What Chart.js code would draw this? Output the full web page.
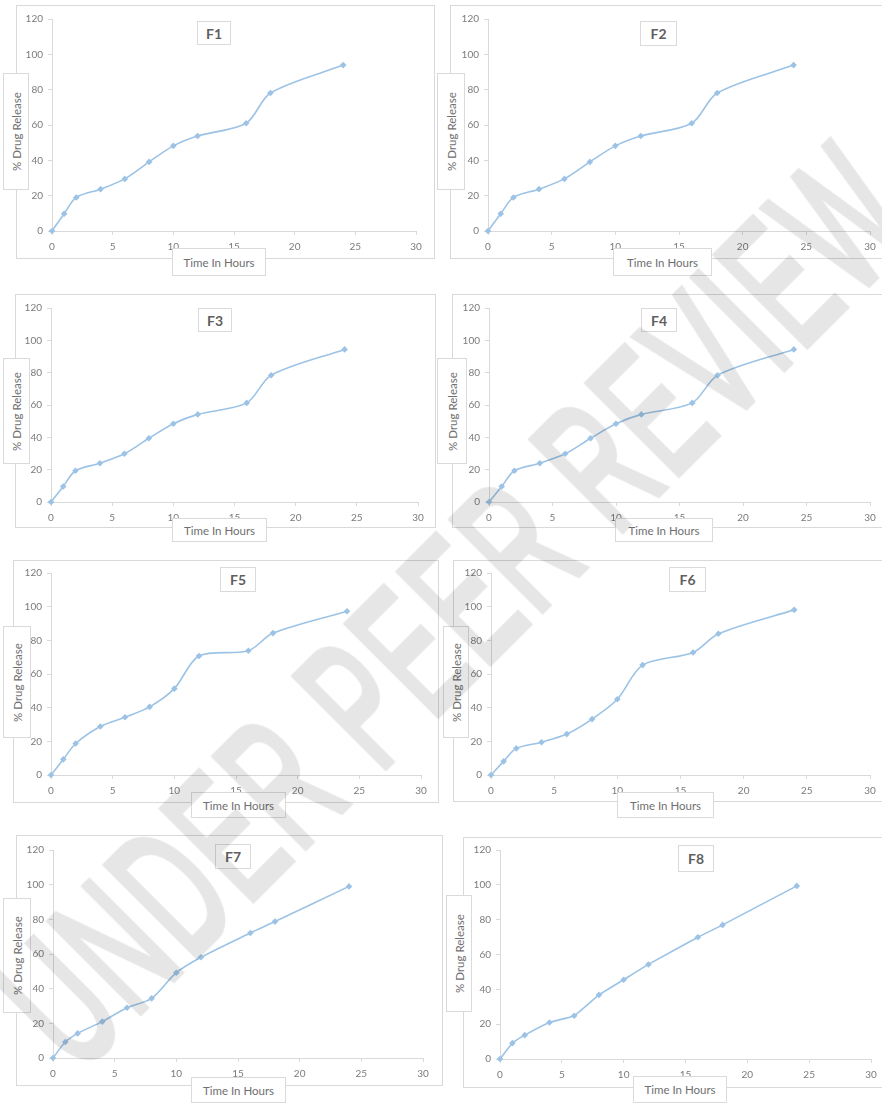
<!DOCTYPE html>
<html>
<head>
<meta charset="utf-8">
<title>% Drug Release vs Time — F1 to F8</title>
<script src="https://cdn.jsdelivr.net/npm/chart.js@4.4.1/dist/chart.umd.min.js"></script>
<style>
  html, body { margin: 0; padding: 0; background: #fff; }
  #page {
    position: relative; width: 882px; height: 1104px; overflow: hidden;
    background: #fff; font-family: Lato, "Open Sans", "Liberation Sans", sans-serif;
  }
  .frame { position: absolute; box-sizing: border-box; border: 1px solid #d9d9d9; }
  .plot { position: absolute; display: block; }
  .tag {
    position: absolute; box-sizing: border-box; border: 1px solid #dadada; background: #fff;
    display: flex; align-items: center; justify-content: center;
    color: #6f6f6f; font-size: 11.5px; white-space: nowrap;
  }
  .tag.title { font-weight: bold; font-size: 14px; color: #5f5f5f; }
  .tag.ytitle span { display: block; transform: rotate(-90deg); }
  #watermark {
    position: absolute; left: 456px; top: 606px;
    transform: translate(-50%, -50%) rotate(-45deg) scaleX(0.56);
    font-family: "Liberation Sans", Arial, sans-serif; font-weight: normal; font-size: 186px;
    letter-spacing: 8px;
    line-height: 1; white-space: nowrap; color: #e6e6e6;
    -webkit-text-stroke: 7px #e6e6e6;
    mix-blend-mode: multiply; pointer-events: none;
  }
</style>
</head>
<body>
<div id="page"></div>
<script>
// ---- data -------------------------------------------------------------
const hours = [0, 1, 2, 4, 6, 8, 10, 12, 16, 18, 24];
const formulations = ['F1', 'F2', 'F3', 'F4', 'F5', 'F6', 'F7', 'F8'];

const releaseF1 = [0, 9.8, 19.0, 23.7, 29.5, 39.1, 48.2, 53.8, 61.0, 78.1, 93.9];
const releaseF2 = [0, 9.8, 19.0, 23.7, 29.5, 39.1, 48.2, 53.8, 61.0, 78.1, 93.9];
const releaseF3 = [0, 9.6, 19.3, 24.0, 29.8, 39.4, 48.4, 54.2, 61.3, 78.4, 94.4];
const releaseF4 = [0, 9.6, 19.3, 24.0, 29.8, 39.4, 48.4, 54.2, 61.3, 78.4, 94.4];
const releaseF5 = [0, 9.3, 18.7, 28.8, 34.3, 40.5, 51.3, 70.7, 73.8, 84.3, 97.3];
const releaseF6 = [0, 8.1, 15.8, 19.5, 24.3, 33.2, 45.0, 65.3, 72.8, 83.9, 98.1];
const releaseF7 = [0, 9.2, 14.2, 21.0, 29.0, 34.4, 49.2, 58.1, 72.1, 78.7, 99.0];
const releaseF8 = [0, 9.1, 13.7, 21.0, 24.8, 36.8, 45.5, 54.3, 69.9, 77.0, 99.4];

const timeTicks = [0, 5, 10, 15, 20, 25, 30];
const releaseTicks = [0, 20, 40, 60, 80, 100, 120];

const xAxisTitle = 'Time In Hours';
const yAxisTitle = '% Drug Release';
const watermarkText = 'UNDER PEER REVIEW';

const releaseSeries = [releaseF1, releaseF2, releaseF3, releaseF4,
                       releaseF5, releaseF6, releaseF7, releaseF8];

// ---- layout (page pixels) ---------------------------------------------
// frame: [left, top, right, bottom]; plot: [x at first tick, y at last tick, x at last tick, y at first tick]
const panels = [
  { frame: [16, 5, 435, 259],    plot: [52, 18, 416, 231],    title: [197, 21, 231, 45],   yTitle: [3, 73, 29, 190],     xTitle: [172, 248, 266, 276] },
  { frame: [450, 5, 900, 259],   plot: [488, 18, 870, 231],   title: [640, 21, 677, 46],   yTitle: [437, 73, 465, 190],  xTitle: [613, 248, 712, 276] },
  { frame: [15, 294, 436, 528],  plot: [51, 307, 418, 502],   title: [198, 308, 232, 332], yTitle: [3, 358, 30, 464],    xTitle: [172, 518, 267, 542] },
  { frame: [452, 294, 900, 528], plot: [489, 307, 870, 502],  title: [641, 308, 677, 332], yTitle: [437, 358, 467, 464], xTitle: [615, 518, 713, 542] },
  { frame: [13, 560, 439, 803],  plot: [51, 572, 421, 775],   title: [220, 567, 256, 592], yTitle: [3, 626, 31, 738],    xTitle: [191, 792, 286, 818] },
  { frame: [453, 560, 900, 802], plot: [491, 572, 870, 775],  title: [669, 567, 706, 592], yTitle: [443, 626, 469, 738], xTitle: [617, 792, 714, 818] },
  { frame: [16, 835, 443, 1086], plot: [53, 849, 423, 1058],  title: [215, 844, 251, 869], yTitle: [3, 898, 31, 1013],   xTitle: [191, 1077, 286, 1103] },
  { frame: [463, 837, 900, 1088], plot: [500, 849, 871, 1059], title: [678, 845, 714, 872], yTitle: [446, 895, 472, 1012], xTitle: [633, 1076, 727, 1103] }
];

const AXIS_W = 46, AXIS_H = 26, PAD_T = 10, PAD_R = 16;
const LINE_COLOR = '#9cc3e5';
const AXIS_COLOR = '#d9d9d9';
const TICK_COLOR = '#7b7b7b';

Chart.defaults.font.family = 'Lato, "Open Sans", sans-serif';
Chart.defaults.font.size = 10;

const page = document.getElementById('page');

function box(cls, r, text) {
  const d = document.createElement('div');
  d.className = cls;
  d.style.left = r[0] + 'px';
  d.style.top = r[1] + 'px';
  d.style.width = (r[2] - r[0]) + 'px';
  d.style.height = (r[3] - r[1]) + 'px';
  if (text !== undefined) {
    const s = document.createElement('span');
    s.textContent = text;
    d.appendChild(s);
  }
  page.appendChild(d);
  return d;
}

function axisOptions(ticks, fixSize) {
  return {
    type: 'linear',
    min: ticks[0],
    max: ticks[ticks.length - 1],
    ticks: {
      stepSize: ticks[1] - ticks[0],
      color: TICK_COLOR,
      autoSkip: false,
      maxRotation: 0,
      padding: 5
    },
    grid: { display: true, drawOnChartArea: false, drawTicks: true, tickLength: 4, color: AXIS_COLOR },
    border: { display: true, color: AXIS_COLOR, width: 1 },
    afterFit: fixSize
  };
}

formulations.forEach((name, i) => {
  const p = panels[i];
  box('frame', p.frame);

  const [x0, yTop, x1, yBot] = p.plot;
  const canvas = document.createElement('canvas');
  canvas.className = 'plot';
  const w = (x1 - x0) + AXIS_W + PAD_R;
  const h = (yBot - yTop) + PAD_T + AXIS_H;
  canvas.width = w; canvas.height = h;
  canvas.style.width = w + 'px'; canvas.style.height = h + 'px';
  canvas.style.left = (x0 - AXIS_W) + 'px';
  canvas.style.top = (yTop - PAD_T) + 'px';
  page.appendChild(canvas);

  const xOpts = axisOptions(timeTicks, s => { s.height = AXIS_H; });
  xOpts.ticks.padding = 6;
  const yOpts = axisOptions(releaseTicks, s => { s.width = AXIS_W; });

  new Chart(canvas, {
    type: 'line',
    data: {
      datasets: [{
        label: name,
        data: hours.map((t, k) => ({ x: t, y: releaseSeries[i][k] })),
        borderColor: LINE_COLOR,
        backgroundColor: LINE_COLOR,
        borderWidth: 1.6,
        pointStyle: 'rectRot',
        pointRadius: 3.3,
        pointBorderWidth: 0,
        tension: i === 7 ? 0.12 : 0.3,
        clip: false
      }]
    },
    options: {
      responsive: false,
      animation: false,
      devicePixelRatio: 1,
      events: [],
      layout: { padding: { left: 0, top: PAD_T, right: PAD_R, bottom: 0 } },
      plugins: { legend: { display: false }, tooltip: { enabled: false }, title: { display: false } },
      scales: { x: xOpts, y: yOpts }
    }
  });

  box('tag title', p.title, name);
  box('tag ytitle', p.yTitle, yAxisTitle);
  box('tag xtitle', p.xTitle, xAxisTitle);
});

const wm = document.createElement('div');
wm.id = 'watermark';
wm.textContent = watermarkText;
page.appendChild(wm);
</script>
</body>
</html>
